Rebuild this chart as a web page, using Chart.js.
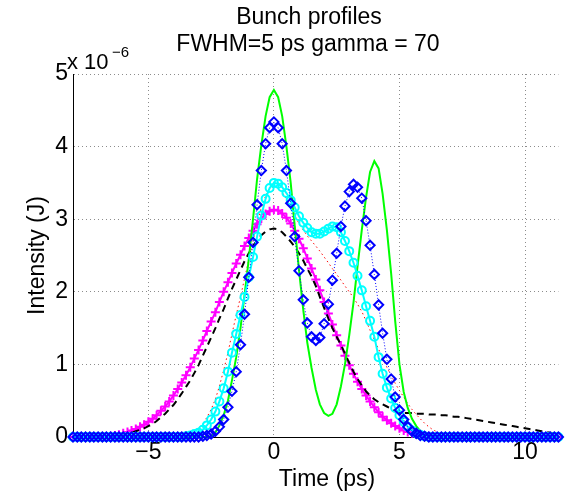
<!DOCTYPE html>
<html>
<head>
<meta charset="utf-8">
<script src="https://cdn.jsdelivr.net/npm/chart.js@4.4.1/dist/chart.umd.min.js"></script>
<style>
  body { margin: 0; background: #fff; }
</style>
</head>
<body>
<canvas id="bunchChart" width="565" height="494"></canvas>
<script>
// sample times in ps (one row = 1 ps, step 1/6 ps)
const tPs = [
  -8.00, -7.83, -7.67, -7.50, -7.33, -7.17,
  -7.00, -6.83, -6.67, -6.50, -6.33, -6.17,
  -6.00, -5.83, -5.67, -5.50, -5.33, -5.17,
  -5.00, -4.83, -4.67, -4.50, -4.33, -4.17,
  -4.00, -3.83, -3.67, -3.50, -3.33, -3.17,
  -3.00, -2.83, -2.67, -2.50, -2.33, -2.17,
  -2.00, -1.83, -1.67, -1.50, -1.33, -1.17,
  -1.00, -0.83, -0.67, -0.50, -0.33, -0.17,
  0.00, 0.17, 0.33, 0.50, 0.67, 0.83,
  1.00, 1.17, 1.33, 1.50, 1.67, 1.83,
  2.00, 2.17, 2.33, 2.50, 2.67, 2.83,
  3.00, 3.17, 3.33, 3.50, 3.67, 3.83,
  4.00, 4.17, 4.33, 4.50, 4.67, 4.83,
  5.00, 5.17, 5.33, 5.50, 5.67, 5.83,
  6.00, 6.17, 6.33, 6.50, 6.67, 6.83,
  7.00, 7.17, 7.33, 7.50, 7.67, 7.83,
  8.00, 8.17, 8.33, 8.50, 8.67, 8.83,
  9.00, 9.17, 9.33, 9.50, 9.67, 9.83,
  10.00, 10.17, 10.33, 10.50, 10.67, 10.83,
  11.00, 11.17, 11.33
];

// intensities in units of 1e-6 J
const profileGreen = [
  0, 0, 0, 0, 0, 0,
  0, 0, 0, 0, 0, 0,
  0, 0, 0, 0, 0, 0,
  0, 0, 0, 0, 0, 0,
  0, 0, 0, 0, 0, 0,
  0, 0, 0, 0.01, 0.06, 0.16,
  0.3, 0.5, 0.78, 1.1, 1.5, 1.95,
  2.45, 3.0, 3.55, 4.02, 4.42, 4.68,
  4.78, 4.68, 4.42, 4.0, 3.5, 2.9,
  2.3, 1.75, 1.3, 0.95, 0.65, 0.45,
  0.33, 0.29, 0.32, 0.45, 0.7, 1.0,
  1.4, 1.85, 2.35, 2.85, 3.3, 3.65,
  3.8, 3.7, 3.35, 2.85, 2.25, 1.6,
  1.0, 0.62, 0.4, 0.25, 0.15, 0.08,
  0.04, 0.02, 0.01, 0, 0, 0,
  0, 0, 0, 0, 0, 0,
  0, 0, 0, 0, 0, 0,
  0, 0, 0, 0, 0, 0,
  0, 0, 0, 0, 0, 0,
  0, 0, 0
];

const profileBlue = [
  0, 0, 0, 0, 0, 0,
  0, 0, 0, 0, 0, 0,
  0, 0, 0, 0, 0, 0,
  0, 0, 0, 0, 0, 0,
  0, 0, 0, 0, 0, 0,
  0, 0.01, 0.02, 0.04, 0.08, 0.14,
  0.24, 0.41, 0.63, 0.9, 1.27, 1.69,
  2.2, 2.68, 3.2, 3.67, 4.04, 4.26,
  4.34, 4.26, 4.04, 3.67, 3.22, 2.76,
  2.29, 1.89, 1.57, 1.38, 1.33, 1.37,
  1.56, 1.83, 2.16, 2.53, 2.9, 3.18,
  3.38, 3.48, 3.44, 3.29, 2.98, 2.64,
  2.24, 1.82, 1.43, 1.07, 0.8, 0.55,
  0.37, 0.24, 0.14, 0.08, 0.05, 0.02,
  0.01, 0, 0, 0, 0, 0,
  0, 0, 0, 0, 0, 0,
  0, 0, 0, 0, 0, 0,
  0, 0, 0, 0, 0, 0,
  0, 0, 0, 0, 0, 0,
  0, 0, 0
];

const profileCyan = [
  0, 0, 0, 0, 0, 0,
  0, 0, 0, 0, 0, 0,
  0, 0, 0, 0, 0, 0,
  0, 0, 0, 0, 0, 0,
  0, 0, 0, 0.01, 0.02, 0.04,
  0.06, 0.1, 0.16, 0.24, 0.35, 0.49,
  0.67, 0.9, 1.16, 1.42, 1.68, 1.93,
  2.2, 2.48, 2.76, 3.05, 3.28, 3.43,
  3.5, 3.49, 3.44, 3.36, 3.26, 3.16,
  3.04, 2.95, 2.88, 2.82, 2.8, 2.8,
  2.83, 2.87, 2.9, 2.89, 2.82, 2.7,
  2.56, 2.4, 2.22, 2.02, 1.8, 1.6,
  1.38, 1.1, 0.87, 0.68, 0.53, 0.4,
  0.3, 0.21, 0.14, 0.09, 0.05, 0.03,
  0.01, 0, 0, 0, 0, 0,
  0, 0, 0, 0, 0, 0,
  0, 0, 0, 0, 0, 0,
  0, 0, 0, 0, 0, 0,
  0, 0, 0, 0, 0, 0,
  0, 0, 0
];

const profileMagenta = [
  0, 0, 0, 0, 0, 0,
  0, 0, 0, 0.01, 0.02, 0.03,
  0.05, 0.07, 0.09, 0.11, 0.14, 0.17,
  0.21, 0.25, 0.3, 0.36, 0.42, 0.49,
  0.57, 0.66, 0.75, 0.85, 0.96, 1.08,
  1.2, 1.33, 1.46, 1.59, 1.72, 1.86,
  2.0, 2.13, 2.26, 2.39, 2.51, 2.63,
  2.74, 2.84, 2.93, 3.01, 3.07, 3.11,
  3.13, 3.12, 3.08, 3.02, 2.94, 2.84,
  2.73, 2.6, 2.46, 2.32, 2.17, 2.02,
  1.86, 1.7, 1.55, 1.4, 1.26, 1.12,
  0.99, 0.87, 0.76, 0.66, 0.57, 0.49,
  0.41, 0.34, 0.28, 0.23, 0.19, 0.15,
  0.12, 0.09, 0.07, 0.05, 0.04, 0.03,
  0.02, 0.01, 0, 0, 0, 0,
  0, 0, 0, 0, 0, 0,
  0, 0, 0, 0, 0, 0,
  0, 0, 0, 0, 0, 0,
  0, 0, 0, 0, 0, 0,
  0, 0, 0
];

const profileBlack = [
  0, 0, 0, 0, 0, 0,
  0, 0, 0, 0, 0.01, 0.02,
  0.03, 0.04, 0.06, 0.08, 0.1, 0.12,
  0.15, 0.18, 0.22, 0.27, 0.32, 0.38,
  0.44, 0.52, 0.6, 0.69, 0.78, 0.88,
  0.99, 1.12, 1.24, 1.37, 1.5, 1.63,
  1.76, 1.91, 2.04, 2.17, 2.3, 2.42,
  2.53, 2.63, 2.71, 2.78, 2.83, 2.86,
  2.87, 2.86, 2.82, 2.76, 2.69, 2.62,
  2.53, 2.43, 2.32, 2.21, 2.08, 1.93,
  1.78, 1.63, 1.5, 1.38, 1.27, 1.15,
  1.02, 0.9, 0.8, 0.71, 0.63, 0.57,
  0.52, 0.48, 0.45, 0.42, 0.39, 0.36,
  0.34, 0.33, 0.33, 0.33, 0.32, 0.32,
  0.32, 0.31, 0.31, 0.31, 0.3, 0.3,
  0.29, 0.28, 0.28, 0.27, 0.26, 0.25,
  0.24, 0.23, 0.22, 0.21, 0.2, 0.19,
  0.18, 0.17, 0.16, 0.15, 0.14, 0.13,
  0.12, 0.11, 0.1, 0.09, 0.08, 0.07,
  0.06, 0.05, 0.04
];

const profileRed = [
  0, 0, 0, 0, 0, 0,
  0, 0, 0, 0, 0, 0,
  0, 0, 0, 0, 0, 0,
  0, 0, 0, 0, 0, 0,
  0, 0, 0.01, 0.02, 0.04, 0.07,
  0.12, 0.18, 0.27, 0.38, 0.52, 0.7,
  0.92, 1.16, 1.42, 1.68, 1.93, 2.18,
  2.44, 2.7, 2.95, 3.16, 3.32, 3.42,
  3.45, 3.43, 3.37, 3.28, 3.17, 3.05,
  2.94, 2.85, 2.77, 2.7, 2.63, 2.56,
  2.48, 2.4, 2.32, 2.24, 2.16, 2.08,
  2.0, 1.92, 1.83, 1.73, 1.6, 1.47,
  1.34, 1.21, 1.08, 0.96, 0.85, 0.74,
  0.64, 0.55, 0.46, 0.38, 0.31, 0.25,
  0.19, 0.14, 0.1, 0.07, 0.04, 0.02,
  0.01, 0, 0, 0, 0, 0,
  0, 0, 0, 0, 0, 0,
  0, 0, 0, 0, 0, 0,
  0, 0, 0, 0, 0, 0,
  0, 0, 0
];

const xTicks = [-5, 0, 5, 10];
const yTicks = [0, 1, 2, 3, 4, 5];
const titleLines = ['Bunch profiles', 'FWHM=5 ps gamma = 70'];
const xLabel = 'Time (ps)';
const yLabel = 'Intensity (J)';

const FONT = '"Liberation Sans", Arial, Helvetica, sans-serif';

const toPoints = (vals) => vals.map((v, i) => ({ x: tPs[i], y: v }));
const minusSign = (v) => (v < 0 ? '\u2212' + Math.abs(v) : String(v));

// title, x label and the 10^-6 multiplier, placed like the matlab figure
const textPlugin = {
    id: 'matlabText',
    afterDraw(chart) {
        const c = chart.ctx;
        c.save();
        c.fillStyle = '#000';
        c.textAlign = 'center';
        c.textBaseline = 'middle';
        c.font = '23px ' + FONT;
        c.fillText(titleLines[0], 309, 18);
        c.fillText(titleLines[1], 308, 45);
        c.fillText(xLabel, 327, 480);
        c.textAlign = 'left';
        c.textBaseline = 'alphabetic';
        c.font = '22px ' + FONT;
        c.fillText('x 10', 67, 69);
        c.font = '15px ' + FONT;
        c.fillText('\u22126', 112, 57);
        c.restore();
    }
};

const ctx = document.getElementById('bunchChart').getContext('2d');

new Chart(ctx, {
    type: 'line',
    data: {
        datasets: [
            {
                label: 'blue',
                data: toPoints(profileBlue),
                borderColor: '#0000ff',
                borderWidth: 1,
                borderDash: [1, 2],
                pointStyle: 'rectRot',
                pointRadius: 4.6,
                pointBorderWidth: 2,
                pointBorderColor: '#0000ff',
                pointBackgroundColor: 'rgba(0,0,0,0)',
                clip: false
            },
            {
                label: 'cyan',
                data: toPoints(profileCyan),
                borderColor: '#00ffff',
                borderWidth: 2,
                pointStyle: 'circle',
                pointRadius: 4,
                pointBorderWidth: 2,
                pointBorderColor: '#00ffff',
                pointBackgroundColor: 'rgba(0,0,0,0)',
                clip: false
            },
            {
                label: 'green',
                data: toPoints(profileGreen),
                borderColor: '#00ff00',
                borderWidth: 2,
                pointRadius: 0,
                clip: false
            },
            {
                label: 'black',
                data: toPoints(profileBlack),
                borderColor: '#000000',
                borderWidth: 2,
                borderDash: [7, 5],
                pointRadius: 0,
                clip: false
            },
            {
                label: 'magenta',
                data: toPoints(profileMagenta),
                borderColor: '#ff00ff',
                borderWidth: 2,
                pointStyle: 'cross',
                pointRadius: 4.5,
                pointBorderWidth: 2,
                pointBorderColor: '#ff00ff',
                clip: false
            },
            {
                label: 'red',
                data: toPoints(profileRed),
                borderColor: '#ff0000',
                borderWidth: 1,
                borderDash: [1.5, 3],
                pointRadius: 0,
                clip: false
            }
        ]
    },
    options: {
        responsive: false,
        animation: false,
        layout: { padding: { top: 74, right: 2, left: 0, bottom: 0 } },
        plugins: {
            legend: { display: false },
            tooltip: { enabled: false }
        },
        scales: {
            x: {
                type: 'linear',
                min: -8,
                max: 11.33,
                afterBuildTicks: (scale) => {
                    scale.ticks = xTicks.map(v => ({ value: v }));
                },
                afterFit: (scale) => { scale.height = 57; },
                ticks: {
                    color: '#000',
                    font: { family: FONT, size: 23 },
                    padding: 2,
                    maxRotation: 0,
                    callback: (v) => minusSign(v)
                },
                grid: { color: 'rgba(0,0,0,0.45)', drawTicks: false },
                border: { display: true, color: '#000', width: 1, dash: [1, 3] }
            },
            y: {
                min: 0,
                max: 5,
                afterBuildTicks: (scale) => {
                    scale.ticks = yTicks.map(v => ({ value: v }));
                },
                afterFit: (scale) => { scale.width = 73; },
                ticks: {
                    color: '#000',
                    font: { family: FONT, size: 23 },
                    padding: 5
                },
                grid: { color: 'rgba(0,0,0,0.45)', drawTicks: false },
                border: { display: true, color: '#000', width: 1, dash: [1, 3] },
                title: {
                    display: true,
                    text: yLabel,
                    color: '#000',
                    font: { family: FONT, size: 23, lineHeight: 1.2 },
                    padding: { top: 24, bottom: 0 }
                }
            }
        }
    },
    plugins: [textPlugin]
});
</script>
</body>
</html>
